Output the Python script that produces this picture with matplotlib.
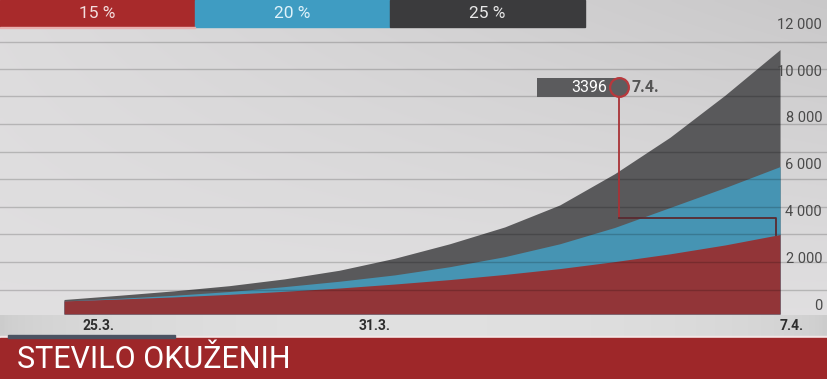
import matplotlib
matplotlib.use('Agg')
import matplotlib.pyplot as plt
import numpy as np
from matplotlib.patches import Rectangle

# ---------------- data ----------------
days = list(range(14))                     # 25.3. ... 7.4.
date_labels = ['25.3.', '31.3.', '7.4.']
series_labels = ['15 %', '20 %', '25 %']
growth_15 = [560, 640, 730, 840, 970, 1110, 1280, 1470, 1690, 1940, 2240, 2570, 2950, 3396]
growth_20 = [560, 670, 800, 960, 1170, 1400, 1670, 2020, 2450, 3000, 3700, 4550, 5400, 6300]
growth_25 = [620, 800, 990, 1210, 1500, 1870, 2380, 3000, 3720, 4660, 6000, 7550, 9350, 11300]
y_ticks = [0, 2000, 4000, 6000, 8000, 10000, 12000]
annot_value = 3396
annot_date = '7.4.'
title = 'STEVILO OKUŽENIH'

# ---------------- style ----------------
C_RED = '#923538'
C_BLUE = '#4694b3'
C_DARK = '#59595b'
LEG_RED = '#a82a2b'
LEG_BLUE = '#3f9cc2'
LEG_DARK = '#3b3b3d'
FONT = ['Roboto', 'DejaVu Sans']

W, H = 827, 379
fig = plt.figure(figsize=(W / 100, H / 100), dpi=100)

# background axes in pixel coordinates
bg = fig.add_axes([0, 0, 1, 1])
bg.set_xlim(0, W)
bg.set_ylim(H, 0)
bg.axis('off')

# gradient background of plot area
gx = np.linspace(0, 1, 200)
gy = np.linspace(0, 1, 100)
GX, GY = np.meshgrid(gx, gy)
val = 0.865 - 0.075 * GX * (1 - GY) + 0.015 * GY
rgb = np.dstack([val, val * 0.995, val])
bg.imshow(rgb, extent=[0, W, 315, 0], aspect='auto', zorder=0, interpolation='bilinear')

# date strip
sx = np.linspace(0, 1, 200)
sval = 0.80 + 0.08 * np.sin(np.pi * sx) ** 0.5
srgb = np.dstack([np.tile(sval, (10, 1))] * 3)
bg.imshow(srgb, extent=[0, W, 337, 315], aspect='auto', zorder=0, interpolation='bilinear')
bg.add_patch(Rectangle((0, 335.5), W, 2, color='#f2e6e6', zorder=1))
bg.add_patch(Rectangle((0, 337.5), W, H - 337.5, color='#9e2729', zorder=1))
bg.add_patch(Rectangle((8, 335), 167, 3, color='#4b5362', zorder=2))

# legend bars on top
legend_cols = [LEG_RED, LEG_BLUE, LEG_DARK]
legend_txt = ['#f3dede', '#dff2fa', '#e8e8e8']
for i, (lab, col) in enumerate(zip(series_labels, legend_cols)):
    x0 = i * 195
    bg.add_patch(Rectangle((x0, 0), 195, 27, color=col, zorder=5))
    bg.text(x0 + 97.5, 14, lab, color=legend_txt[i], fontsize=12.5, ha='center',
            va='center', family=FONT, zorder=6)
bg.add_patch(Rectangle((0, 27), 195, 1.2, color='#e8b0b0', zorder=5))

# title
bg.text(17, 359, title, color='white', fontsize=22, ha='left', va='center',
        family=FONT, zorder=6)

# ---------------- main chart axes ----------------
px_per_day = 55.08
px_per_unit = 23.4 / 1000
left_px = 64
base_px = 314
ax_h = 315
ax = fig.add_axes([0, (H - ax_h) / H, 1, ax_h / H])
ax.patch.set_alpha(0)
ax.set_xlim(-left_px / px_per_day, (W - left_px) / px_per_day)
ax.set_ylim(-(ax_h - base_px) / px_per_unit, base_px / px_per_unit)
ax.axis('off')

# decorative horizontal rules
for yp in [42, 69, 96, 124, 152, 179, 207, 234, 262, 290]:
    ax.axhline((base_px - yp) / px_per_unit, color='black', alpha=0.18, lw=1.0, zorder=3)

ax.fill_between(days, 0, growth_25, color=C_DARK, lw=0, zorder=1)
ax.fill_between(days, 0, growth_20, color=C_BLUE, lw=0, zorder=1.1)
ax.fill_between(days, 0, growth_15, color=C_RED, lw=0, zorder=1.2)

# right-side value labels
for v in y_ticks:
    ax.text(822 / W, v + 60, f'{v:,}'.replace(',', ' '), transform=ax.get_yaxis_transform(),
            ha='right', va='bottom', fontsize=10.5, color='#4a4a4a', family=FONT)

# date labels
date_pos = [0.62, 5.64, 13.22]
for p, lab in zip(date_pos, date_labels):
    bg.text(left_px + p * px_per_day, 326, lab, ha='center', va='center', fontsize=10,
            fontweight='bold', color='#2e2e2e', family=FONT, zorder=6)

# annotation
cx = 10.07
cy = (base_px - 87) / px_per_unit
box_bottom = (base_px - 97) / px_per_unit
box_top = (base_px - 78) / px_per_unit
ax.add_patch(Rectangle(((537 - left_px) / px_per_day, box_bottom),
                       cx - (537 - left_px) / px_per_day, box_top - box_bottom,
                       color='#5b5b5d', lw=0, zorder=5))
ax.text((607 - left_px) / px_per_day, cy, f'{annot_value}', color='white', fontsize=11.5,
        ha='right', va='center', family=FONT, zorder=6)
ax.text((632 - left_px) / px_per_day, cy, annot_date, color='#555555', fontsize=11.5,
        fontweight='bold', ha='left', va='center', family=FONT, zorder=6)
elbow_y = (base_px - 218) / px_per_unit
end_x = (776 - left_px) / px_per_day
ax.plot([cx, cx], [cy, elbow_y], color='#a83236', lw=1.3, zorder=6)
ax.plot([cx, end_x, end_x], [elbow_y, elbow_y, annot_value], color='#5a2a30', lw=1.3, zorder=6)
ax.plot([cx], [cy], marker='o', markersize=13.5, markerfacecolor='#5d5d5f',
        markeredgecolor='#b8383c', markeredgewidth=1.6, zorder=7)

fig.savefig('out.png', dpi=100)
